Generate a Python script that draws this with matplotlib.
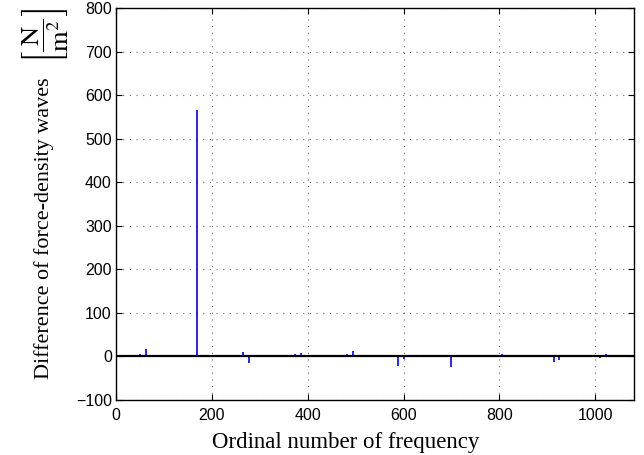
import matplotlib.pyplot as plt
import numpy as np

# ordinal numbers of the frequencies and the force-density differences (N/m^2)
ordinals = [25, 50, 62, 170, 206, 218, 230, 265, 277, 374, 386,
            482, 494, 589, 601, 698, 771, 805, 817, 913, 925, 1010, 1022]
differences = [3, 5, 16, 565, 3, 3, 3, 9, -15, 6, 8,
               6, 12, -22, -5, -25, 3, 6, 4, -12, -8, -3, 5]

W, H = 644, 455
plt.rcParams['mathtext.fontset'] = 'stix'

fig = plt.figure(figsize=(W / 100, H / 100), dpi=100)
ax = fig.add_axes([0.180, 0.121, 0.804, 0.861])

ax.vlines(ordinals, 0, differences, colors='#0000ff', linewidth=1.2)
ax.axhline(0, color='black', linewidth=1.6)

ax.set_xlim(0, 1080)
ax.set_ylim(-100, 800)
ax.set_xticks(np.arange(0, 1001, 200))
ax.set_yticks(np.arange(-100, 801, 100))
ax.set_yticklabels(['\u2212100'] + [str(v) for v in range(0, 801, 100)])

ax.grid(True, linestyle=(0, (1, 5)), color='#707070', linewidth=0.8)
ax.tick_params(direction='in', top=True, right=True, length=4,
               labelsize=11.5, labelfontfamily='Liberation Sans')
ax.tick_params(axis='x', pad=6)
ax.tick_params(axis='y', pad=3)
for spine in ax.spines.values():
    spine.set_linewidth(1.0)

# axis titles, unit in a large bracketed fraction above the y title
fig.text(346 / W, 1 - 448 / H, 'Ordinal number of frequency', fontsize=16.5,
         family='Liberation Serif', ha='center', va='baseline')
fig.text(44 / W, 1 - 228 / H, 'Difference of force-density waves', fontsize=15.9,
         family='Liberation Serif', ha='center', va='center', rotation=90)
fig.text(46 / W, 1 - 36 / H, r'$\left[\dfrac{\mathrm{N}}{\mathrm{m}^2}\right]$',
         fontsize=19, ha='center', va='center', rotation=90)

fig.savefig('out.png', dpi=100)
